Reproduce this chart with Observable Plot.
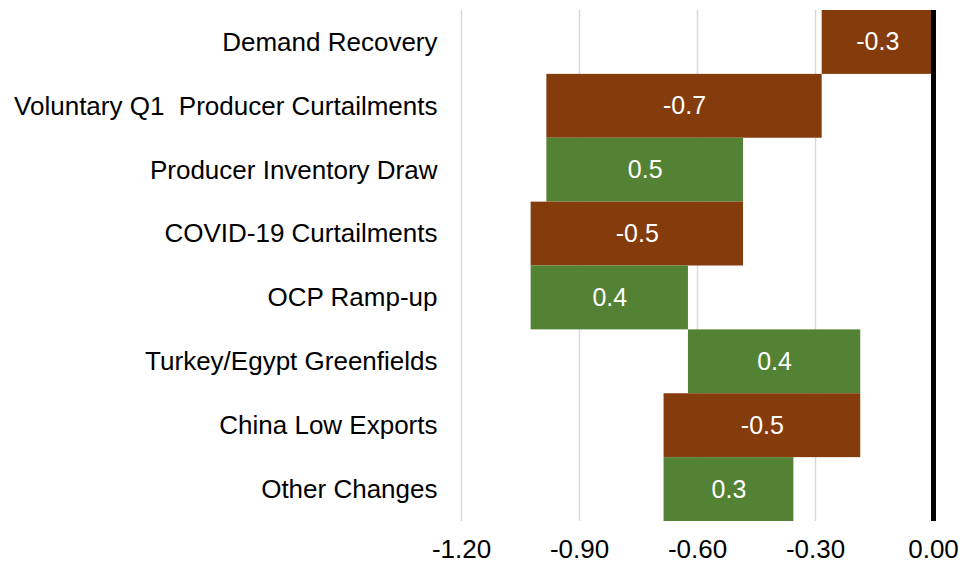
<!DOCTYPE html>
<html><head><meta charset="utf-8">
<script src="https://cdn.jsdelivr.net/npm/d3@7"></script>
<script src="https://cdn.jsdelivr.net/npm/@observablehq/plot@0.6"></script>
<style>body{margin:0;background:#fff;} svg{display:block;}</style>
</head><body><div id="chart"></div>
<script>
const categories = [
  "Demand Recovery",
  "Voluntary Q1  Producer Curtailments",
  "Producer Inventory Draw",
  "COVID-19 Curtailments",
  "OCP Ramp-up",
  "Turkey/Egypt Greenfields",
  "China Low Exports",
  "Other Changes"
];
const values = [-0.283, -0.70, 0.50, -0.54, 0.40, 0.438, -0.50, 0.33];
const xTicks = [-1.2, -0.9, -0.6, -0.3, 0];
const colorUp = "#548235", colorDown = "#843C0C";

let run = 0;
const rows = categories.map((c, i) => {
  const start = run; run += values[i];
  return {category: c, value: values[i], start, end: run, label: values[i].toFixed(1)};
});

const chart = Plot.plot({
  width: 971, height: 565,
  marginLeft: 461, marginRight: 38, marginTop: 10, marginBottom: 44,
  style: {fontFamily: '"Liberation Sans", Arial, sans-serif', fontSize: "26px", color: "#000", background: "#fff", overflow: "visible"},
  color: {type: "identity"},
  x: {domain: [-1.2, 0], ticks: xTicks, tickFormat: d => d.toFixed(2), tickSize: 0, tickPadding: 18, label: null},
  y: {domain: categories, padding: 0, round: false, tickSize: 0, tickPadding: 24, label: null},
  marks: [
    Plot.ruleX(xTicks.filter(d => d !== 0), {stroke: "#d9d9d9", strokeWidth: 1.5}),
    Plot.barX(rows, {y: "category", x1: "start", x2: "end", fill: d => d.value >= 0 ? colorUp : colorDown}),
    Plot.text(rows, {y: "category", x: d => (d.start + d.end) / 2, text: "label", fill: "white", fontSize: 25}),
    Plot.ruleX([0], {stroke: "black", strokeWidth: 5})
  ]
});
document.getElementById("chart").appendChild(chart);
</script>
</body></html>
